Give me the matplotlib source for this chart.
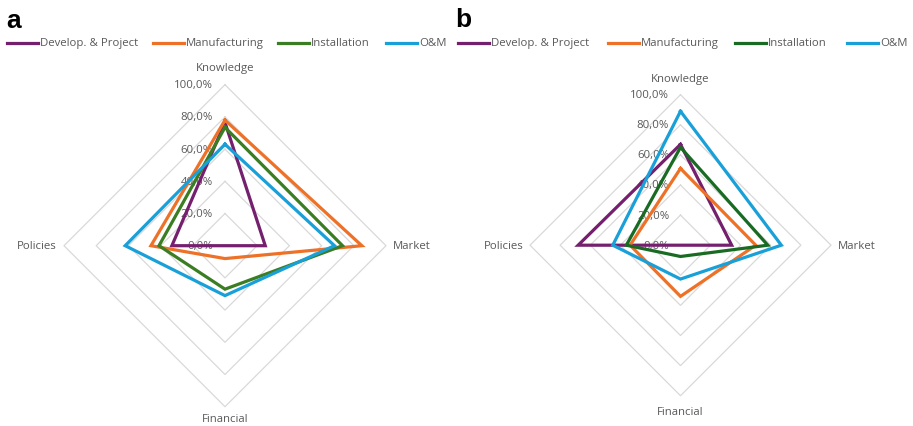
import matplotlib
matplotlib.use("Agg")
import matplotlib.pyplot as plt
from matplotlib.lines import Line2D
import numpy as np

plt.rcParams['font.family'] = ['Open Sans', 'DejaVu Sans']

W, H = 913, 427

axes_names = ["Knowledge", "Market", "Financial", "Policies"]
series_names = ["Develop. & Project", "Manufacturing", "Installation", "O&M"]
tick_values = [0, 20, 40, 60, 80, 100]
tick_labels = ["0,0%", "20,0%", "40,0%", "60,0%", "80,0%", "100,0%"]

# shares (%) per axis: Knowledge, Market, Financial, Policies
a_develop = [76.5, 25.0, 0.0, 33.0]
a_manufacturing = [78.0, 85.0, 8.0, 46.0]
a_installation = [73.5, 73.0, 27.0, 41.0]
a_om = [63.0, 68.0, 31.0, 62.0]

b_develop = [67.0, 34.0, 0.0, 68.0]
b_manufacturing = [51.0, 50.0, 34.0, 33.5]
b_installation = [65.0, 58.0, 7.5, 36.0]
b_om = [89.0, 67.0, 22.5, 45.0]

colors_a = ["#74206E", "#EE7128", "#3B7D23", "#19A0D8"]
colors_b = ["#74206E", "#EE7128", "#196B24", "#19A0D8"]

grid_color = "#D9D9D9"
text_color = "#595959"

# axis directions: Knowledge up, Market right, Financial down, Policies left
dirs = np.array([[0, 1], [1, 0], [0, -1], [-1, 0]], dtype=float)


def to_xy(vals):
    v = np.asarray(vals, dtype=float)
    pts = dirs * v[:, None]
    pts = np.vstack([pts, pts[:1]])
    return pts[:, 0], pts[:, 1]


fig = plt.figure(figsize=(W / 100, H / 100), dpi=100)


def panel(cx, cy, radius_px, left_px, right_px, top_px, bottom_px, data, colors,
          fin_y):
    s = radius_px / 100.0
    ax = fig.add_axes([left_px / W, 1 - bottom_px / H,
                       (right_px - left_px) / W, (bottom_px - top_px) / H])
    ax.set_xlim(-(cx - left_px) / s, (right_px - cx) / s)
    ax.set_ylim(-(bottom_px - cy) / s, (cy - top_px) / s)
    ax.set_aspect('equal')
    ax.axis('off')
    for t in tick_values[1:]:
        gx, gy = to_xy([t] * 4)
        ax.plot(gx, gy, color=grid_color, lw=0.9, zorder=1)
    for vals, c in zip(data, colors):
        x, y = to_xy(vals)
        ax.plot(x, y, color=c, lw=2.3, solid_joinstyle='miter', zorder=3)
    for t, lab in zip(tick_values, tick_labels):
        ax.text(-7.5, t, lab, ha='right', va='center', fontsize=8.2,
                color=text_color, zorder=2)
    fs = 8.2
    ax.text(0, 110.5, axes_names[0], ha='center', va='center', fontsize=fs, color=text_color)
    ax.text(104.5, 0, axes_names[1], ha='left', va='center', fontsize=fs, color=text_color)
    ax.text(0, fin_y, axes_names[2], ha='center', va='center', fontsize=fs, color=text_color)
    ax.text(-104.5, 0, axes_names[3], ha='right', va='center', fontsize=fs, color=text_color)
    return ax


panel(225, 246.7, 161, 5, 452, 58, 427,
      [a_develop, a_manufacturing, a_installation, a_om], colors_a, -107.5)
panel(680.5, 246.2, 150.5, 460, 910, 58, 427,
      [b_develop, b_manufacturing, b_installation, b_om], colors_b, -110.5)


def legend_row(starts_px, y_px, colors):
    for x0, name, c in zip(starts_px, series_names, colors):
        fig.add_artist(Line2D([x0 / W, (x0 + 31) / W], [1 - y_px / H] * 2,
                              color=c, lw=2.3, transform=fig.transFigure))
        fig.text((x0 + 33) / W, 1 - y_px / H, name, ha='left', va='center',
                 fontsize=8.2, color=text_color)


legend_row([7, 153, 278, 386], 43.5, colors_a)
legend_row([458, 608, 735, 847], 43.5, colors_b)

fig.text(6 / W, 1 - 21 / H, "a", ha='left', va='center', fontsize=19,
         fontweight='bold', color='black', family=['Liberation Sans', 'DejaVu Sans'])
fig.text(455 / W, 1 - 20 / H, "b", ha='left', va='center', fontsize=19,
         fontweight='bold', color='black', family=['Liberation Sans', 'DejaVu Sans'])

fig.savefig("out.png", dpi=100, facecolor='white')
